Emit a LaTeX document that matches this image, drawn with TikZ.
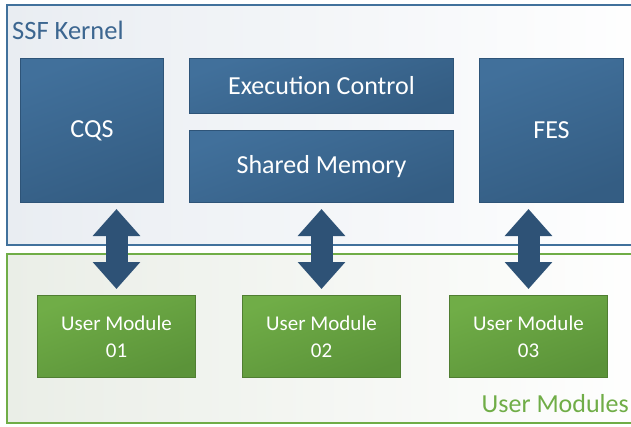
\documentclass[tikz,border=0pt]{standalone}
\usepackage{fontspec}
\setmainfont{Carlito}
\usetikzlibrary{arrows.meta,calc}
\definecolor{kblue}{HTML}{41709B}
\definecolor{kbluedark}{HTML}{345D83}
\definecolor{kborder}{HTML}{2E5478}
\definecolor{outerblue}{HTML}{41719C}
\definecolor{titleblue}{HTML}{3C6690}
\definecolor{arrowblue}{HTML}{2E5276}
\definecolor{ggreen}{HTML}{70AD47}
\definecolor{ggreendark}{HTML}{5B9339}
\definecolor{gborder}{HTML}{507E32}
\definecolor{outergreen}{HTML}{70AD47}
\definecolor{kbg}{HTML}{E9EDF2}
\definecolor{gbg}{HTML}{EAEEE7}
\tikzset{
  kbox/.style={draw=kborder, line width=1pt, top color=kblue, bottom color=kbluedark, shading angle=20,
    text=white, font=\fontsize{26}{28}\selectfont, anchor=north west, inner sep=0pt},
  ubox/.style={draw=gborder, line width=1pt, top color=ggreen, bottom color=ggreendark, shading angle=20,
    text=white, font=\fontsize{21}{27}\selectfont, anchor=north west, inner sep=0pt, align=center,
    minimum width=158pt, minimum height=82pt},
  bigarrow/.style={draw=arrowblue, line width=22pt,
    {Triangle[length=27pt,width=46pt]}-{Triangle[length=27pt,width=46pt]}},
}
\begin{document}
\begin{tikzpicture}[x=1pt,y=-1pt]
\useasboundingbox (0,0) rectangle (631,426);
% outer regions
\path[draw=outerblue, line width=2pt, left color=kbg, right color=white]
  (7,5) rectangle (660,245);
\path[draw=outergreen, line width=2pt, left color=gbg, right color=white]
  (7,254) rectangle (660,423);
\node[anchor=west, inner sep=0pt, text=titleblue, font=\fontsize{26.5}{28}\selectfont] (kt) at (12,30) {SSF Kernel};
\node[anchor=base east, inner sep=0pt, text=outergreen, font=\fontsize{26}{28}\selectfont] (ut) at (629,412) {User Modules};
% kernel boxes
\node[kbox, minimum width=143pt, minimum height=144pt] (cqs) at (20,58) {CQS};
\node[kbox, minimum width=264pt, minimum height=55pt] (exec) at (189,58) {Execution Control};
\node[kbox, minimum width=264pt, minimum height=72pt] (shm) at (189,130) {Shared Memory};
\node[kbox, minimum width=144pt, minimum height=144pt] (fes) at (479,58) {FES};
% user modules
\node[ubox] (um1) at (37,295) {User Module\\01};
\node[ubox] (um2) at (242,295) {User Module\\02};
\node[ubox] (um3) at (449,295) {User Module\\03};
% arrows
\draw[bigarrow] ($(um1.north)+(0,-6)$) -- ($(um1.north |- cqs.south)+(0,6)$);
\draw[bigarrow] ($(um2.north)+(0,-6)$) -- ($(um2.north |- shm.south)+(0,6)$);
\draw[bigarrow] ($(um3.north)+(0,-6)$) -- ($(um3.north |- fes.south)+(0,6)$);
\end{tikzpicture}
\end{document}
